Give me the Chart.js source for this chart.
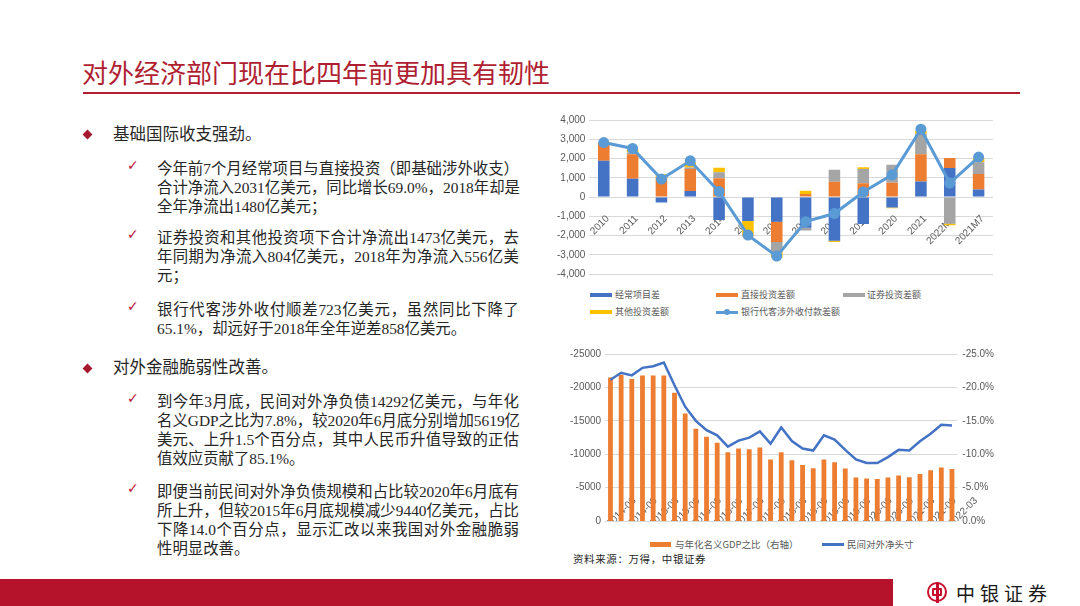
<!DOCTYPE html>
<html>
<head>
<meta charset="utf-8">
<script src="https://cdn.jsdelivr.net/npm/chart.js@4.4.0/dist/chart.umd.min.js"></script>
<style>
  body { margin: 0; width: 1080px; height: 606px; position: relative; overflow: hidden; background: #fff;
         font-family: "Liberation Serif", "Noto Sans CJK SC", serif; color: #262626; }
  .abs { position: absolute; white-space: nowrap; }
  .title { left: 82px; top: 54px; font-family: "Noto Sans CJK SC", sans-serif; font-size: 26px; line-height: 36px; color: #B01E32; }
  .rule { left: 83px; top: 92px; width: 937px; height: 2px; background: #B01E32; }
  .band { left: 0; top: 579px; width: 893px; height: 27px; background: #B5132B; }
  .dia { width: 7px; height: 7px; background: #A5192F; transform: rotate(45deg); }
  .head { font-size: 16.5px; line-height: 22px; left: 113px; }
  .chk { font-family: "DejaVu Sans", sans-serif; font-size: 14px; color: #C0143C; left: 127px; line-height: 14px; }
  .para { left: 157px; font-size: 15.4px; line-height: 19px; }
  .para div { width: 362px; white-space: nowrap; }
  .para div.j { text-align: justify; text-align-last: justify; }
  .lg { font-family: "Noto Sans CJK SC", sans-serif; font-size: 9px; color: #595959; line-height: 12px; }
  .sw { position: absolute; }
  canvas { position: absolute; }
</style>
</head>
<body>
<div class="abs title">对外经济部门现在比四年前更加具有韧性</div>
<div class="abs rule"></div>

<div class="abs dia" style="left:84px;top:131px;"></div>
<div class="abs head" style="top:124px;">基础国际收支强劲。</div>

<div class="abs chk" style="top:158px;">✓</div>
<div class="abs para" style="top:159px;">
  <div class="j">今年前7个月经常项目与直接投资（即基础涉外收支）</div>
  <div class="j">合计净流入2031亿美元，同比增长69.0%，2018年却是</div>
  <div>全年净流出1480亿美元；</div>
</div>

<div class="abs chk" style="top:227px;">✓</div>
<div class="abs para" style="top:228px;">
  <div class="j">证券投资和其他投资项下合计净流出1473亿美元，去</div>
  <div class="j">年同期为净流入804亿美元，2018年为净流入556亿美</div>
  <div>元；</div>
</div>

<div class="abs chk" style="top:299px;">✓</div>
<div class="abs para" style="top:300px;">
  <div class="j">银行代客涉外收付顺差723亿美元，虽然同比下降了</div>
  <div>65.1%，却远好于2018年全年逆差858亿美元。</div>
</div>

<div class="abs dia" style="left:84px;top:365px;"></div>
<div class="abs head" style="top:357px;">对外金融脆弱性改善。</div>

<div class="abs chk" style="top:391px;">✓</div>
<div class="abs para" style="top:392px;">
  <div class="j">到今年3月底，民间对外净负债14292亿美元，与年化</div>
  <div class="j">名义GDP之比为7.8%，较2020年6月底分别增加5619亿</div>
  <div class="j">美元、上升1.5个百分点，其中人民币升值导致的正估</div>
  <div>值效应贡献了85.1%。</div>
</div>

<div class="abs chk" style="top:481px;">✓</div>
<div class="abs para" style="top:482px;">
  <div class="j">即便当前民间对外净负债规模和占比较2020年6月底有</div>
  <div class="j">所上升，但较2015年6月底规模减少9440亿美元，占比</div>
  <div class="j">下降14.0个百分点，显示汇改以来我国对外金融脆弱</div>
  <div>性明显改善。</div>
</div>

<!-- top chart legend -->
<div class="abs sw" style="left:590px;top:293px;width:22px;height:4px;background:#4472C4;"></div>
<div class="abs lg" style="left:615px;top:289px;">经常项目差</div>
<div class="abs sw" style="left:716px;top:293px;width:22px;height:4px;background:#ED7D31;"></div>
<div class="abs lg" style="left:741px;top:289px;">直接投资差额</div>
<div class="abs sw" style="left:843px;top:293px;width:22px;height:4px;background:#A5A5A5;"></div>
<div class="abs lg" style="left:867px;top:289px;">证券投资差额</div>
<div class="abs sw" style="left:590px;top:310px;width:22px;height:4px;background:#FFC000;"></div>
<div class="abs lg" style="left:615px;top:306px;">其他投资差额</div>
<div class="abs sw" style="left:716px;top:311px;width:22px;height:2.5px;background:#5B9BD5;"></div>
<div class="abs sw" style="left:724px;top:309px;width:6px;height:6px;border-radius:50%;background:#5B9BD5;"></div>
<div class="abs lg" style="left:741px;top:306px;">银行代客涉外收付款差额</div>

<!-- bottom chart legend -->
<div class="abs sw" style="left:650px;top:542px;width:21px;height:5px;background:#ED7D31;"></div>
<div class="abs lg" style="left:675px;top:538px;font-size:9.5px;">与年化名义GDP之比（右轴）</div>
<div class="abs sw" style="left:822px;top:543px;width:22px;height:2.5px;background:#4472C4;"></div>
<div class="abs lg" style="left:847px;top:538px;font-size:9.5px;">民间对外净头寸</div>
<div class="abs" style="left:573px;top:551px;font-family:'Noto Sans CJK SC',sans-serif;font-size:10.5px;line-height:15px;color:#262626;letter-spacing:0.6px;">资料来源：万得，中银证券</div>

<canvas id="flowChart" width="455" height="174" style="left:545px;top:110px;"></canvas>
<canvas id="debtChart" width="445" height="189" style="left:560px;top:343px;"></canvas>

<div class="abs band"></div>
<div class="abs" style="left:927px;top:582px;width:16px;height:16px;border:2.5px solid #C8102E;border-radius:50%;"></div>
<div class="abs" style="left:932px;top:588px;width:6px;height:4px;border:2px solid #C8102E;border-radius:1px;"></div>
<div class="abs" style="left:936px;top:582px;width:2.5px;height:21px;background:#C8102E;"></div>
<div class="abs" style="left:956px;top:578px;font-family:'Noto Sans CJK SC',sans-serif;font-size:19px;line-height:30px;letter-spacing:5px;color:#1a1a1a;">中银证券</div>

<script>
// 跨境资金流（亿美元）
const flowYears = ['2010', '2011', '2012', '2013', '2014', '2015', '2016', '2017', '2018', '2019', '2020', '2021', '2022M7', '2021M7'];
const currentAccount = [1880, 950, -290, 310, -1190, -1250, -1280, -1600, -2270, -1400, -550, 810, 1510, 390];
const directInvest = [940, 1270, 1020, 1140, 980, 0, -1060, 160, 790, 710, 740, 1410, 520, 810];
const portfolioInvest = [0, 90, 0, 80, 300, 0, -520, -140, 620, 740, 930, 1070, -1390, 600];
const otherInvest = [0, 170, 160, 260, 240, -790, -290, 170, -64, 100, -30, 140, -83, 200];
const bankSettlement = [2830, 2520, 930, 1880, 280, -1980, -3070, -1280, -858, 260, 1150, 3520, 723, 2072];

// 民间对外净头寸（亿美元）与年化名义GDP之比（%）
const quarters = ['2014-03', '2014-06', '2014-09', '2014-12', '2015-03', '2015-06', '2015-09', '2015-12',
  '2016-03', '2016-06', '2016-09', '2016-12', '2017-03', '2017-06', '2017-09', '2017-12',
  '2018-03', '2018-06', '2018-09', '2018-12', '2019-03', '2019-06', '2019-09', '2019-12',
  '2020-03', '2020-06', '2020-09', '2020-12', '2021-03', '2021-06', '2021-09', '2021-12', '2022-03'];
const netPosition = [-21150, -22190, -21800, -22930, -23175, -23732, -20320, -17110, -14990, -13610, -12820, -11140,
  -12030, -12480, -13410, -11590, -14000, -11980, -10850, -10550, -12820, -12180, -10650, -9220,
  -8680, -8673, -9570, -10650, -10550, -11930, -13070, -14400, -14292];
const gdpRatio = [-21.5, -21.9, -21.25, -21.8, -21.8, -21.8, -19.2, -16.1, -13.8, -12.6, -11.7, -10.3,
  -10.85, -10.75, -11.0, -9.2, -10.3, -9.1, -8.4, -7.9, -9.2, -8.8, -7.85, -6.5,
  -6.35, -6.3, -6.5, -6.8, -6.55, -7.05, -7.6, -8.0, -7.8];

Chart.defaults.font.family = '"Liberation Sans", Arial, sans-serif';
Chart.defaults.font.size = 10;
Chart.defaults.color = '#595959';

const tickFont = { size: 10 };

// Flow chart (stacked bars + line)
new Chart(document.getElementById('flowChart'), {
  data: {
    labels: flowYears,
    datasets: [
      { type: 'line', label: '银行代客涉外收付款差额', data: bankSettlement, borderColor: '#5B9BD5',
        backgroundColor: '#5B9BD5', borderWidth: 3, pointRadius: 4, pointHoverRadius: 4, tension: 0, order: 0 },
      { type: 'bar', label: '经常项目差', data: currentAccount, backgroundColor: '#4472C4', order: 1 },
      { type: 'bar', label: '直接投资差额', data: directInvest, backgroundColor: '#ED7D31', order: 1 },
      { type: 'bar', label: '证券投资差额', data: portfolioInvest, backgroundColor: '#A5A5A5', order: 1 },
      { type: 'bar', label: '其他投资差额', data: otherInvest, backgroundColor: '#FFC000', order: 1 }
    ]
  },
  options: {
    responsive: false,
    animation: false,
    layout: { padding: { left: 8, right: 7, top: 9.3, bottom: 0 } },
    datasets: { bar: { barPercentage: 0.4, categoryPercentage: 1 } },
    plugins: { legend: { display: false }, tooltip: { enabled: false } },
    scales: {
      x: {
        stacked: true,
        position: { y: 0 },
        z: 1,
        grid: { display: false },
        border: { display: false },
        ticks: { minRotation: 45, maxRotation: 45, padding: 8, labelOffset: 4, font: tickFont }
      },
      y: {
        stacked: true,
        min: -4000,
        max: 4000,
        grid: { color: '#D9D9D9', drawTicks: false },
        border: { display: false },
        ticks: { stepSize: 1000, padding: 4, font: tickFont, callback: v => v.toLocaleString('en-US') }
      }
    }
  }
});

// Net position chart (bars on right axis, line on left axis)
new Chart(document.getElementById('debtChart'), {
  data: {
    labels: quarters,
    datasets: [
      { type: 'line', label: '民间对外净头寸', data: netPosition, yAxisID: 'y', borderColor: '#4472C4',
        borderWidth: 2.5, pointRadius: 0, tension: 0, order: 0 },
      { type: 'bar', label: '与年化名义GDP之比（右轴）', data: gdpRatio, yAxisID: 'y1',
        backgroundColor: '#ED7D31', barPercentage: 0.45, categoryPercentage: 1, order: 1 }
    ]
  },
  options: {
    responsive: false,
    animation: false,
    layout: { padding: { left: 6, right: 6, top: 8.3, bottom: 3 } },
    plugins: { legend: { display: false }, tooltip: { enabled: false } },
    scales: {
      x: {
        z: 1,
        grid: { display: false },
        border: { display: false },
        ticks: {
          autoSkip: false, minRotation: 45, maxRotation: 45, padding: -34, labelOffset: 24, font: tickFont,
          callback: function(v, i) {
            const q = quarters[i];
            return (q.endsWith('03') || q.endsWith('09')) ? q : '';
          }
        }
      },
      y: {
        position: 'left',
        min: -25000,
        max: 0,
        reverse: true,
        grid: { color: '#D9D9D9', drawTicks: false },
        border: { display: false },
        ticks: { stepSize: 5000, padding: 4, font: tickFont, callback: v => String(v) }
      },
      y1: {
        position: 'right',
        min: -25,
        max: 0,
        reverse: true,
        grid: { display: false, drawTicks: false },
        border: { display: false },
        ticks: { stepSize: 5, padding: 5, font: tickFont, callback: v => v.toFixed(1) + '%' }
      }
    }
  }
});
</script>
</body>
</html>
